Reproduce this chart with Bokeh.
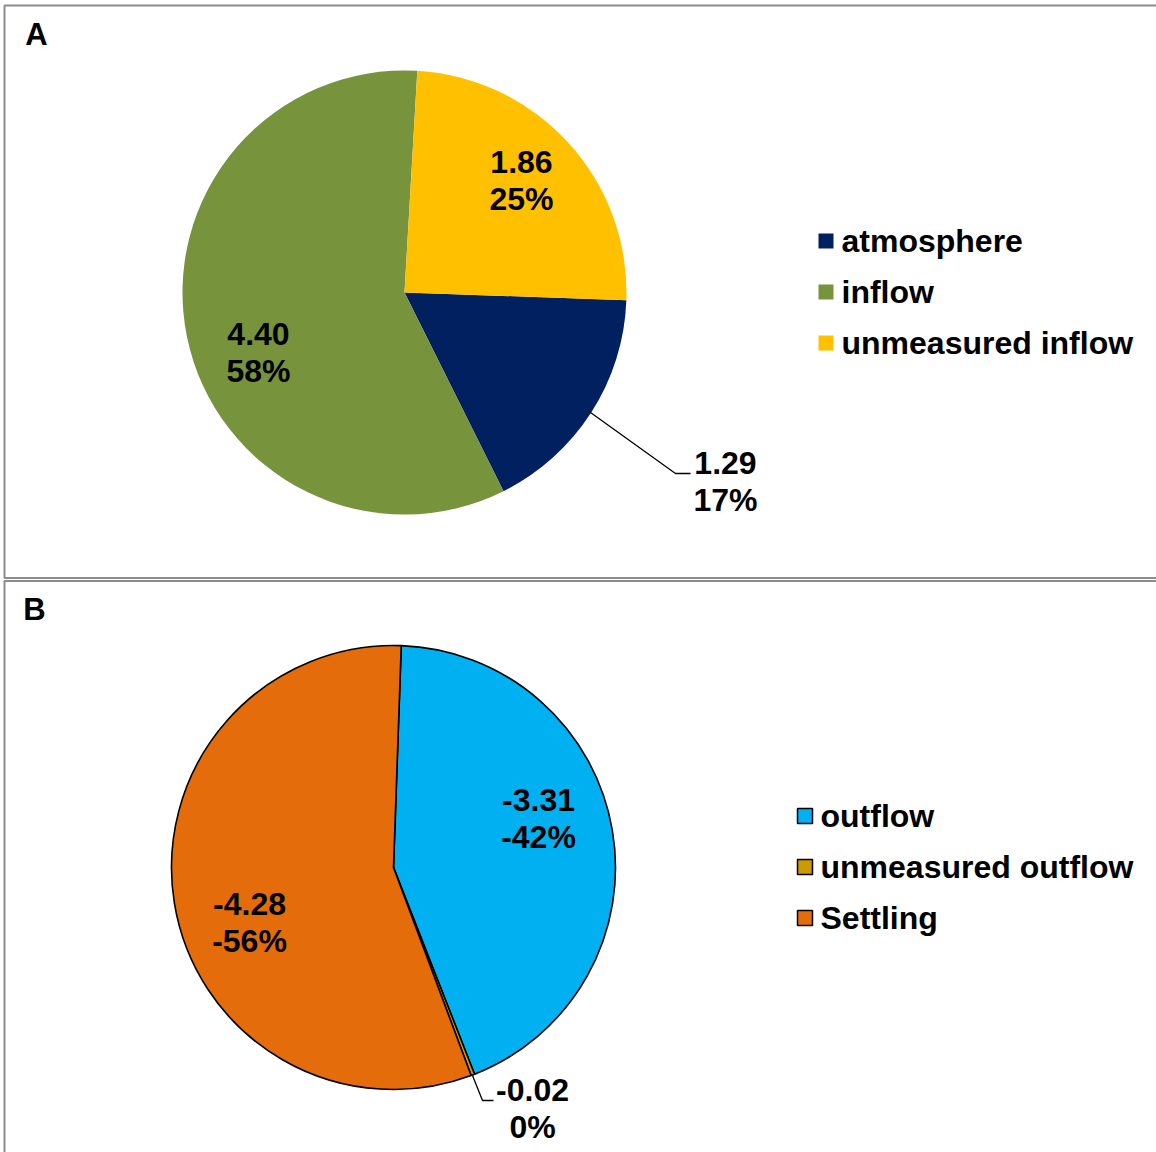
import numpy as np
from bokeh.plotting import figure
from bokeh.models import Range1d
from bokeh.core.properties import value
from bokeh.embed import file_html
from bokeh.resources import INLINE

# ---------------- data ----------------
cats_A = ["atmosphere", "inflow", "unmeasured inflow"]
vals_A = [1.29, 4.40, 1.86]
pct_A = ["17%", "58%", "25%"]
colors_A = ["#002060", "#77933C", "#FFC000"]

cats_B = ["outflow", "unmeasured outflow", "Settling"]
vals_B = [-3.31, -0.02, -4.28]
pct_B = ["-42%", "0%", "-56%"]
colors_B = ["#00B0F0", "#CC9900", "#E46C0A"]

# ---------------- layout ----------------
W, H = 1156, 1152
FONT = value("Liberation Sans")
FS = "32px"


def Y(py):
    return H - py


p = figure(width=W, height=H, output_backend="svg", toolbar_location=None,
           x_range=Range1d(0, W), y_range=Range1d(0, H),
           x_axis_location=None, y_axis_location=None,
           min_border=0, min_border_left=0, min_border_right=0,
           min_border_top=0, min_border_bottom=0)
p.grid.visible = False
p.outline_line_color = None
p.background_fill_color = "white"
p.border_fill_color = "white"

# panel frames
p.line([W + 5, 4, 4, W + 5], [Y(5), Y(5), Y(577.5), Y(577.5)], line_color="#8C8C8C", line_width=2)
p.line([W + 5, 4, 4], [Y(580.5), Y(580.5), Y(H + 5)], line_color="#8C8C8C", line_width=2)

# panel letters
p.text([36], [Y(34)], text=["A"], text_font=FONT, text_font_style="bold", text_font_size="31px",
       text_align="center", text_baseline="middle", text_color="black")
p.text([34], [Y(609)], text=["B"], text_font=FONT, text_font_style="bold", text_font_size="31px",
       text_align="center", text_baseline="middle", text_color="black")


def pie(cx, cy, r, vals, colors, rot, line_color, line_width):
    v = np.abs(np.array(vals, dtype=float))
    frac = v / v.sum()
    cum = np.concatenate([[0], np.cumsum(frac)]) * 360.0 + rot  # clockwise from top
    starts = np.deg2rad(90 - cum[1:])
    ends = np.deg2rad(90 - cum[:-1])
    p.wedge(x=[cx] * len(vals), y=[cy] * len(vals), radius=r,
            start_angle=list(starts), end_angle=list(ends),
            direction="anticlock", fill_color=colors,
            line_color=line_color, line_width=line_width)


LBL = dict(text_font=FONT, text_font_style="bold", text_font_size=FS,
           text_align="center", text_baseline="middle", text_color="black")

# ---------- Panel A ----------
cxA, cyA, R = 404, 292, 222
pie(cxA, Y(cyA), R, vals_A, colors_A, 92, None, 1)

lab_pos_A = [(725, 462), (258, 333), (521, 161)]
for (lx, ly), v, pc in zip(lab_pos_A, vals_A, pct_A):
    p.text([lx, lx], [Y(ly), Y(ly + 37)], text=[f"{v:.2f}", pc], **LBL)
p.line([590, 675, 690], [Y(412), Y(473), Y(473)], line_color="black", line_width=1.3)

for i, (c, col) in enumerate(zip(cats_A, colors_A)):
    yy = 240.5 + i * 51
    p.rect([825.5], [Y(yy)], width=15, height=15, fill_color=col, line_color=None)
    p.text([841], [Y(yy - 0.5)], text=[c], text_font=FONT, text_font_style="bold", text_font_size=FS,
           text_align="left", text_baseline="middle", text_color="black")

# ---------- Panel B ----------
cxB, cyB = 393, 867
pie(cxB, Y(cyB), R, vals_B, colors_B, 2, "black", 1.6)

lab_pos_B = [(538, 799), (532, 1089), (249, 903)]
for (lx, ly), v, pc in zip(lab_pos_B, vals_B, pct_B):
    p.text([lx, lx], [Y(ly), Y(ly + 37)], text=[f"{v:.2f}", pc], **LBL)
p.line([472, 482, 493], [Y(1075), Y(1100), Y(1100)], line_color="black", line_width=1.3)

for i, (c, col) in enumerate(zip(cats_B, colors_B)):
    yy = 815.5 + i * 51
    p.rect([804.5], [Y(yy)], width=15, height=15, fill_color=col, line_color="black", line_width=1.5)
    p.text([820], [Y(yy - 0.5)], text=[c], text_font=FONT, text_font_style="bold", text_font_size=FS,
           text_align="left", text_baseline="middle", text_color="black")

open("out.html", "w").write(file_html(p, INLINE))
